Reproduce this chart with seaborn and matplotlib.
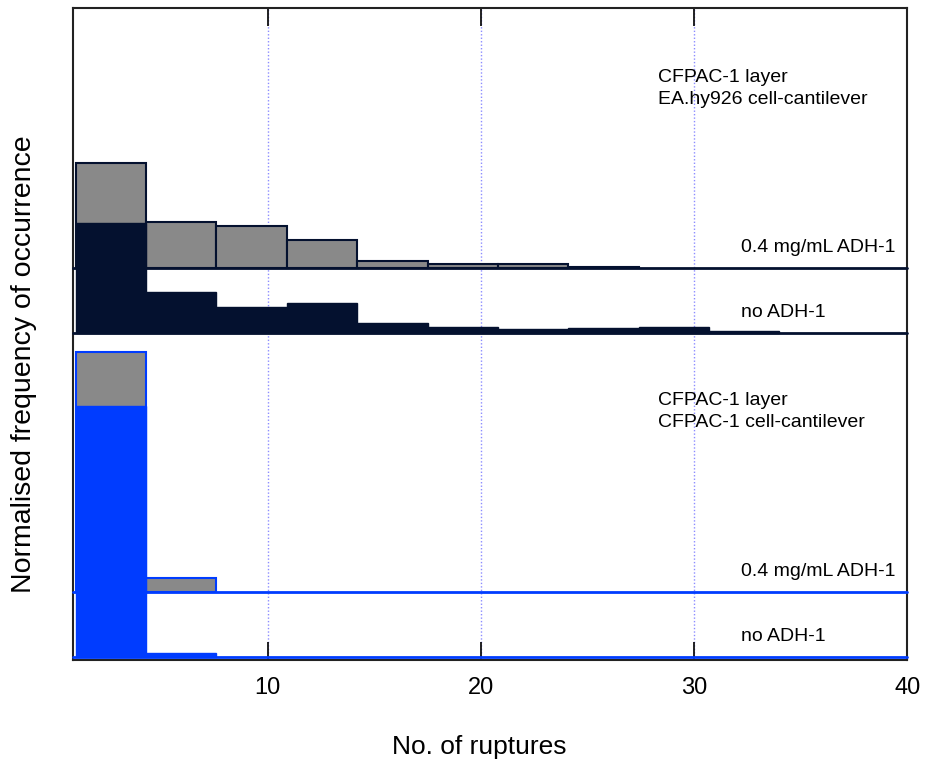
import matplotlib
matplotlib.use("Agg")
import matplotlib.pyplot as plt
import numpy as np
import pandas as pd
import seaborn as sns

# Rupture-count histograms: bins of width 3.3 starting at 1 rupture
bin_start = 1.0
bin_width = 3.3

# Normalised frequency of occurrence per bin
ea_adh = [0.440, 0.193, 0.176, 0.117, 0.031, 0.016, 0.017, 0.006]
ea_none = [0.461, 0.171, 0.108, 0.127, 0.044, 0.024, 0.016, 0.020, 0.024, 0.007]
cf_adh = [0.940, 0.054]
cf_none = [0.986, 0.014]

x_ticks = [10, 20, 30, 40]
x_grid = [10, 20, 30]

panel_titles = [
    ("CFPAC-1 layer", "EA.hy926 cell-cantilever"),
    ("CFPAC-1 layer", "CFPAC-1 cell-cantilever"),
]
series_labels = ["0.4 mg/mL ADH-1", "no ADH-1"]

GREY = "#898989"
NAVY = "#04112f"
BLUE = "#003cff"
GRID = "#8c8cff"

sns.set_style("white")
plt.rcParams["font.family"] = ["Liberation Sans", "DejaVu Sans"]
plt.rcParams["text.color"] = "black"
plt.rcParams["axes.labelcolor"] = "black"
plt.rcParams["xtick.color"] = "black"

W_PX, H_PX = 926, 762
fig = plt.figure(figsize=(W_PX / 100, H_PX / 100), dpi=100)

L, B = 72.7 / W_PX, (H_PX - 660) / H_PX
W, H = 834.6 / W_PX, 652 / H_PX
XLIM = (0.86, 40.0)

ax = fig.add_axes([L, B, W, H])
ax.set_xlim(*XLIM)
ax.set_ylim(0, 1)
ax.set_yticks([])
ax.set_xticks(x_ticks)
ax.set_xticklabels([str(t) for t in x_ticks], fontsize=17)
ax.tick_params(axis="x", direction="in", length=13, width=1.3, color="#111111",
               top=True, bottom=True, pad=12.5, labelcolor="black")
for s in ax.spines.values():
    s.set_visible(True)
    s.set_color("#222222")
    s.set_linewidth(1.5)
for g in x_grid:
    ax.axvline(g, color=GRID, lw=1.0, ls=(0, (1, 1.5)), zorder=0)


def add_hist(values, baseline, scale, face, edge, lw):
    """Draw one histogram on a transparent overlay whose y=0 sits at `baseline`."""
    o = fig.add_axes([L, B + baseline * H, W, (1 - baseline) * H])
    o.patch.set_alpha(0)
    edges = [bin_start + bin_width * k for k in range(len(values) + 1)]
    centers = [e + bin_width / 2 for e in edges[:-1]]
    df = pd.DataFrame({"x": centers, "w": list(values)})
    o.axhline(0, color=edge, lw=2.0, zorder=1, clip_on=False)
    sns.histplot(data=df, x="x", weights="w", bins=edges, stat="count",
                 element="bars", fill=True, color=face, edgecolor=edge,
                 linewidth=lw, alpha=1, ax=o, zorder=2)
    o.set_xlim(*XLIM)
    o.set_ylim(0, (1 - baseline) / scale)
    for p in o.patches:
        p.set_clip_on(False)
    o.set_axis_off()
    return o


TOP_SCALE = 238.5 / 652
BOT_SCALE = 255.0 / 652
add_hist(ea_adh, 392 / 652, TOP_SCALE, GREY, NAVY, 1.5)
add_hist(ea_none, 327 / 652, TOP_SCALE, NAVY, NAVY, 1.0)
add_hist(cf_adh, 68 / 652, BOT_SCALE, GREY, BLUE, 1.5)
add_hist(cf_none, 3 / 652, BOT_SCALE, BLUE, BLUE, 1.0)


def ypos(px):
    return (660 - px) / 652


def xpos(px):
    return (px - 72.7) / 834.6


tkw = dict(transform=ax.transAxes, fontsize=14, va="baseline", ha="left",
           color="black", zorder=10)
ax.text(xpos(658), ypos(82), panel_titles[0][0], **tkw)
ax.text(xpos(658), ypos(104), panel_titles[0][1], **tkw)
ax.text(xpos(741), ypos(252), series_labels[0], **tkw)
ax.text(xpos(741), ypos(317), series_labels[1], **tkw)
ax.text(xpos(658), ypos(405), panel_titles[1][0], **tkw)
ax.text(xpos(658), ypos(427), panel_titles[1][1], **tkw)
ax.text(xpos(741), ypos(576), series_labels[0], **tkw)
ax.text(xpos(741), ypos(641), series_labels[1], **tkw)

fig.text(479 / W_PX, 1 - 754 / H_PX, "No. of ruptures", fontsize=19,
         ha="center", va="baseline", color="black")
fig.text(24 / W_PX, 1 - 364 / H_PX, "Normalised frequency of occurrence",
         fontsize=20.5, rotation=90, ha="center", va="center", color="black")

fig.savefig("out.png", dpi=100)
